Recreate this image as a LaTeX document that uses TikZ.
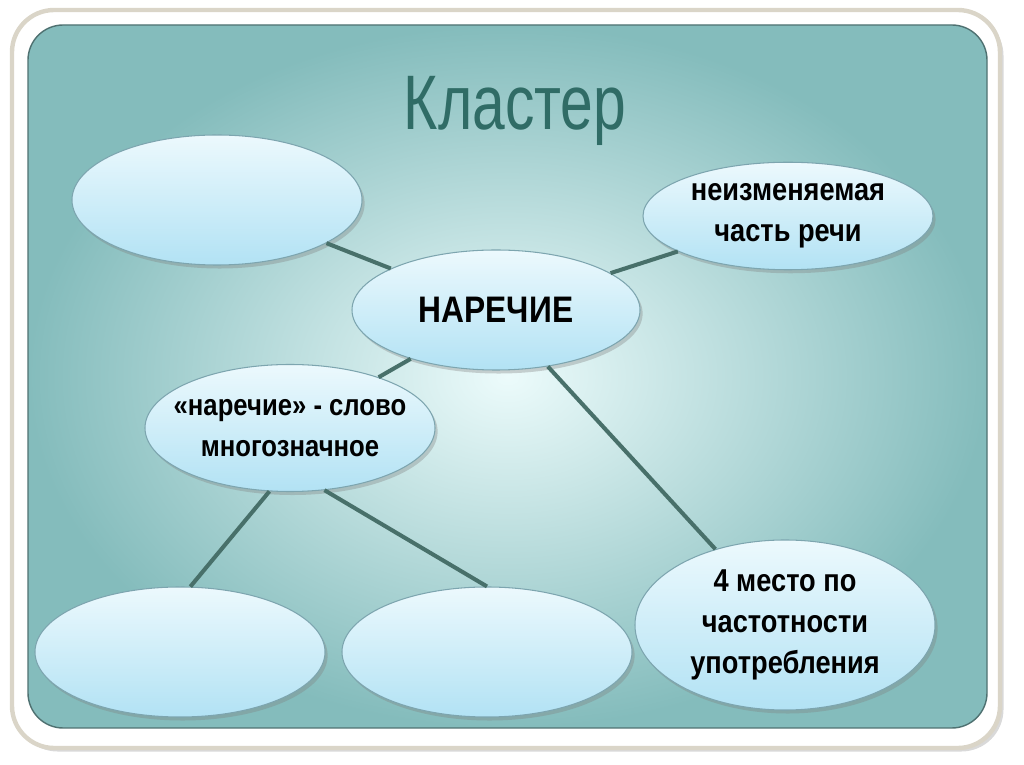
\documentclass[tikz,border=0pt]{standalone}
\usepackage{fontspec}
\setmainfont{Liberation Sans}
\newfontfamily\bubblefont[FakeStretch=0.86]{Liberation Sans}
\newfontfamily\titlefont[FakeStretch=0.76]{Liberation Sans}
\usepackage{xcolor}
\usepackage{tikz}
\usetikzlibrary{
	shapes.geometric, shadows, positioning
}

\definecolor{frameedge}{RGB}{218,213,200}
\definecolor{boardteal}{RGB}{132,188,188}
\definecolor{boardlight}{RGB}{236,251,251}
\definecolor{bubbletop}{RGB}{236,249,253}
\definecolor{bubblebottom}{RGB}{178,226,244}
\definecolor{bubbleedge}{RGB}{125,165,175}
\definecolor{linkline}{RGB}{72,112,106}
\definecolor{titleteal}{RGB}{48,108,102}

\begin{document}
\begin{tikzpicture}[
		x = 0.2mm, y = -0.2mm,
		bubble/.style={
			ellipse, draw = bubbleedge, line width = 0.6pt,
			top color = bubbletop, bottom color = bubblebottom,
			drop shadow = {shadow xshift = 1.5pt, shadow yshift = -2pt, opacity = 0.35},
			inner xsep = -12mm, inner ysep = -5mm, align = center,
			minimum width = 58mm, minimum height = 26mm,
			font = \bubblefont\bfseries\fontsize{18}{23.5}\selectfont
		},
		link/.style={
			draw = linkline, line width = 2.3pt
		},
	]
		\useasboundingbox (0, 0) rectangle (1024, 765);
		% white frame and teal board
		\path[
			fill = white, draw = frameedge, line width = 2.5pt, rounded corners = 24pt,
			drop shadow = {shadow xshift = 2pt, shadow yshift = -2pt, opacity = 0.3}
		] (12, 10) rectangle (1000, 748);
		\shade[
			rounded corners = 20pt, inner color = boardlight, outer color = boardteal
		] (28, 25) rectangle (987, 728);
		\draw[boardteal!60!black, line width = 0.8pt, rounded corners = 20pt]
			(28, 25) rectangle (987, 728);

		\node[text = titleteal, font = \titlefont\fontsize{44}{44}\selectfont] (title) at (515, 111) {Кластер};

		\node[bubble] (blankA) at (217, 200) {};
		\node[bubble, minimum height = 21.5mm] (trait) at (788, 216) {
			неизменяемая\\часть речи
		};
		\node[bubble, minimum width = 57.6mm, minimum height = 24mm,
			font = \bubblefont\bfseries\fontsize{21}{21}\selectfont] (adverb) at (496, 310) {НАРЕЧИЕ};
		\node[bubble, minimum height = 25.4mm,
			font = \bubblefont\bfseries\fontsize{17}{23}\selectfont] (meaning) at (290, 428) {
			«наречие» - слово\\многозначное
		};
		\node[bubble] (blankB) at (180, 652) {};
		\node[bubble] (blankC) at (487, 652) {};
		\node[bubble, minimum width = 60mm, minimum height = 34mm] (rank) at (785, 625) {
			4 место по\\частотности\\употребления
		};

		\draw[link] (blankA) -- (adverb);
		\draw[link] (adverb) -- (trait);
		\draw[link] (adverb) -- (meaning);
		\draw[link] (adverb) -- (rank);
		\draw[link] (meaning.-108) -- (blankB.81);
		\draw[link] (meaning.-61) -- (blankC.north);
	\end{tikzpicture}
\end{document}
